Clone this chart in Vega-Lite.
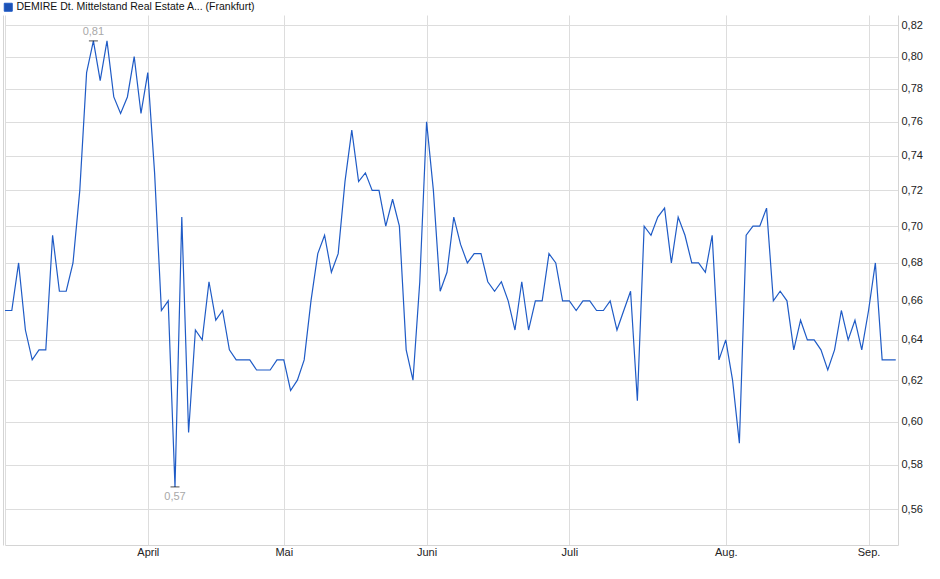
{
  "$schema": "https://vega.github.io/schema/vega-lite/v6.json",
  "width": 893,
  "height": 530,
  "autosize": {"type": "none"},
  "padding": {"left": 5, "top": 15, "right": 42, "bottom": 34},
  "background": "white",
  "config": {
    "font": "Liberation Sans",
    "view": {"stroke": null},
    "locale": {"number": {"decimal": ",", "thousands": ".", "grouping": [3], "currency": ["", " €"]}},
    "axis": {
      "labelFont": "Liberation Sans",
      "labelFontSize": 11,
      "labelColor": "#222222",
      "gridColor": "#dddddd",
      "domainColor": "#d4d4d4",
      "ticks": false,
      "title": null,
      "labelOverlap": false
    }
  },
  "data": {
    "values": [
      {"i": 0, "v": 0.655}, {"i": 1, "v": 0.655}, {"i": 2, "v": 0.68}, {"i": 3, "v": 0.645},
      {"i": 4, "v": 0.63}, {"i": 5, "v": 0.635}, {"i": 6, "v": 0.635}, {"i": 7, "v": 0.695},
      {"i": 8, "v": 0.665}, {"i": 9, "v": 0.665}, {"i": 10, "v": 0.68}, {"i": 11, "v": 0.72},
      {"i": 12, "v": 0.79}, {"i": 13, "v": 0.81}, {"i": 14, "v": 0.785}, {"i": 15, "v": 0.81},
      {"i": 16, "v": 0.775}, {"i": 17, "v": 0.765}, {"i": 18, "v": 0.775}, {"i": 19, "v": 0.8},
      {"i": 20, "v": 0.765}, {"i": 21, "v": 0.79}, {"i": 22, "v": 0.73}, {"i": 23, "v": 0.655},
      {"i": 24, "v": 0.66}, {"i": 25, "v": 0.57}, {"i": 26, "v": 0.705}, {"i": 27, "v": 0.595},
      {"i": 28, "v": 0.645}, {"i": 29, "v": 0.64}, {"i": 30, "v": 0.67}, {"i": 31, "v": 0.65},
      {"i": 32, "v": 0.655}, {"i": 33, "v": 0.635}, {"i": 34, "v": 0.63}, {"i": 35, "v": 0.63},
      {"i": 36, "v": 0.63}, {"i": 37, "v": 0.625}, {"i": 38, "v": 0.625}, {"i": 39, "v": 0.625},
      {"i": 40, "v": 0.63}, {"i": 41, "v": 0.63}, {"i": 42, "v": 0.615}, {"i": 43, "v": 0.62},
      {"i": 44, "v": 0.63}, {"i": 45, "v": 0.66}, {"i": 46, "v": 0.685}, {"i": 47, "v": 0.695},
      {"i": 48, "v": 0.675}, {"i": 49, "v": 0.685}, {"i": 50, "v": 0.725}, {"i": 51, "v": 0.755},
      {"i": 52, "v": 0.725}, {"i": 53, "v": 0.73}, {"i": 54, "v": 0.72}, {"i": 55, "v": 0.72},
      {"i": 56, "v": 0.7}, {"i": 57, "v": 0.715}, {"i": 58, "v": 0.7}, {"i": 59, "v": 0.635},
      {"i": 60, "v": 0.62}, {"i": 61, "v": 0.67}, {"i": 62, "v": 0.76}, {"i": 63, "v": 0.72},
      {"i": 64, "v": 0.665}, {"i": 65, "v": 0.675}, {"i": 66, "v": 0.705}, {"i": 67, "v": 0.69},
      {"i": 68, "v": 0.68}, {"i": 69, "v": 0.685}, {"i": 70, "v": 0.685}, {"i": 71, "v": 0.67},
      {"i": 72, "v": 0.665}, {"i": 73, "v": 0.67}, {"i": 74, "v": 0.66}, {"i": 75, "v": 0.645},
      {"i": 76, "v": 0.67}, {"i": 77, "v": 0.645}, {"i": 78, "v": 0.66}, {"i": 79, "v": 0.66},
      {"i": 80, "v": 0.685}, {"i": 81, "v": 0.68}, {"i": 82, "v": 0.66}, {"i": 83, "v": 0.66},
      {"i": 84, "v": 0.655}, {"i": 85, "v": 0.66}, {"i": 86, "v": 0.66}, {"i": 87, "v": 0.655},
      {"i": 88, "v": 0.655}, {"i": 89, "v": 0.66}, {"i": 90, "v": 0.645}, {"i": 91, "v": 0.655},
      {"i": 92, "v": 0.665}, {"i": 93, "v": 0.61}, {"i": 94, "v": 0.7}, {"i": 95, "v": 0.695},
      {"i": 96, "v": 0.705}, {"i": 97, "v": 0.71}, {"i": 98, "v": 0.68}, {"i": 99, "v": 0.705},
      {"i": 100, "v": 0.695}, {"i": 101, "v": 0.68}, {"i": 102, "v": 0.68}, {"i": 103, "v": 0.675},
      {"i": 104, "v": 0.695}, {"i": 105, "v": 0.63}, {"i": 106, "v": 0.64}, {"i": 107, "v": 0.62},
      {"i": 108, "v": 0.59}, {"i": 109, "v": 0.695}, {"i": 110, "v": 0.7}, {"i": 111, "v": 0.7},
      {"i": 112, "v": 0.71}, {"i": 113, "v": 0.66}, {"i": 114, "v": 0.665}, {"i": 115, "v": 0.66},
      {"i": 116, "v": 0.635}, {"i": 117, "v": 0.65}, {"i": 118, "v": 0.64}, {"i": 119, "v": 0.64},
      {"i": 120, "v": 0.635}, {"i": 121, "v": 0.625}, {"i": 122, "v": 0.635}, {"i": 123, "v": 0.655},
      {"i": 124, "v": 0.64}, {"i": 125, "v": 0.65}, {"i": 126, "v": 0.635}, {"i": 127, "v": 0.655},
      {"i": 128, "v": 0.68}, {"i": 129, "v": 0.63}, {"i": 130, "v": 0.63}, {"i": 131, "v": 0.63}
    ]
  },
  "resolve": {"axis": {"y": "independent"}},
  "layer": [
    {
      "mark": {"type": "line", "color": "#1f5bc6", "strokeWidth": 1.2},
      "encoding": {
        "x": {
          "field": "i",
          "type": "quantitative",
          "scale": {"domain": [0, 131.33], "nice": false, "zero": false},
          "axis": {
            "values": [0, 21, 41, 62, 83, 106, 127],
            "labelExpr": "datum.value == 21 ? 'April' : datum.value == 41 ? 'Mai' : datum.value == 62 ? 'Juni' : datum.value == 83 ? 'Juli' : datum.value == 106 ? 'Aug.' : datum.value == 127 ? 'Sep.' : ''",
            "labelPadding": 1,
            "labelFlush": false,
            "grid": true
          }
        },
        "y": {
          "field": "v",
          "type": "quantitative",
          "scale": {"type": "log", "domain": [0.5445, 0.8267], "nice": false},
          "axis": {
            "orient": "right",
            "values": [0.56, 0.58, 0.6, 0.62, 0.64, 0.66, 0.68, 0.7, 0.72, 0.74, 0.76, 0.78, 0.8, 0.82],
            "format": ".2f",
            "labelPadding": 3,
            "grid": true
          }
        },
        "color": {
          "datum": "DEMIRE Dt. Mittelstand Real Estate A... (Frankfurt)",
          "scale": {"range": ["#1f5bc6"]},
          "legend": {
            "title": null,
            "orient": "none",
            "legendX": -2,
            "legendY": -13,
            "padding": 0,
            "symbolType": "square",
            "symbolSize": 64,
            "symbolFillColor": "#1c52b5",
            "symbolStrokeColor": "#0b2a66",
            "symbolStrokeWidth": 1,
            "labelFont": "Liberation Sans",
            "labelFontSize": 10.5,
            "labelColor": "#111111",
            "labelOffset": 3,
            "labelLimit": 500
          }
        }
      }
    },
    {
      "transform": [
        {"window": [{"op": "row_number", "as": "rk"}], "sort": [{"field": "v", "order": "descending"}, {"field": "i", "order": "ascending"}]},
        {"filter": "datum.rk == 1"}
      ],
      "encoding": {
        "x": {"field": "i", "type": "quantitative"},
        "y": {
          "field": "v",
          "type": "quantitative",
          "axis": {"orient": "left", "labels": false, "grid": false, "domain": true, "offset": 2}
        }
      },
      "layer": [
        {"mark": {"type": "tick", "orient": "horizontal", "size": 9, "thickness": 1, "color": "#000000"}},
        {
          "mark": {"type": "text", "dy": -9, "fontSize": 11, "color": "#a8a8a8"},
          "encoding": {"text": {"field": "v", "type": "quantitative", "format": ".2f"}}
        }
      ]
    },
    {
      "transform": [
        {"window": [{"op": "row_number", "as": "rk"}], "sort": [{"field": "v", "order": "ascending"}, {"field": "i", "order": "ascending"}]},
        {"filter": "datum.rk == 1"}
      ],
      "encoding": {
        "x": {"field": "i", "type": "quantitative"},
        "y": {"field": "v", "type": "quantitative", "axis": null}
      },
      "layer": [
        {"mark": {"type": "tick", "orient": "horizontal", "size": 9, "thickness": 1, "color": "#000000"}},
        {
          "mark": {"type": "text", "dy": 10, "fontSize": 11, "color": "#a8a8a8"},
          "encoding": {"text": {"field": "v", "type": "quantitative", "format": ".2f"}}
        }
      ]
    }
  ]
}
